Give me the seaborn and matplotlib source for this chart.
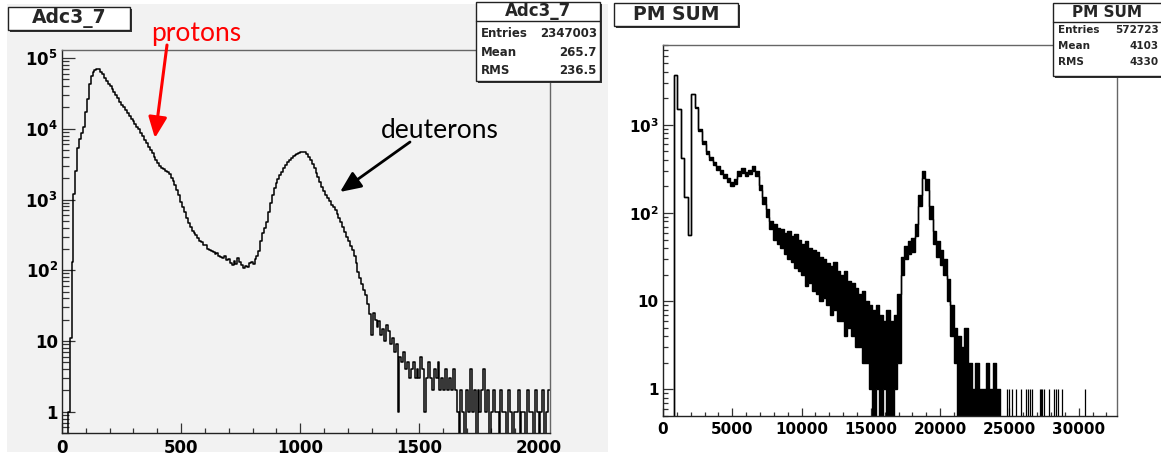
import numpy as np
import matplotlib
matplotlib.use("Agg")
import matplotlib.pyplot as plt
import seaborn as sns
from matplotlib.lines import Line2D
from matplotlib.patches import Rectangle
from matplotlib.ticker import LogLocator, MultipleLocator, NullFormatter

W, H = 1161, 461

# Adc3_7 : counts in 8-channel bins, 0 .. 2048
ADC_BIN = 8
adc_counts = [
    0, 0, 0, 1, 11, 130, 1200, 2500, 5400, 7100,
    8700, 10500, 17400, 26000, 43600, 55000, 63000, 67600, 69000, 69200,
    64500, 58900, 52500, 47900, 43600, 39800, 36300, 33100, 30200, 26900,
    24000, 21900, 20000, 18200, 16600, 15100, 13800, 12900, 11700, 10700,
    9800, 8700, 7800, 6900, 6200, 5500, 5000, 4500, 4000, 3630,
    3300, 3020, 2820, 2690, 2570, 2450, 2290, 2040, 1820, 1620,
    1380, 1150, 930, 790, 660, 550, 470, 410, 363, 339,
    316, 282, 263, 251, 229, 224, 200, 195, 186, 182,
    170, 178, 158, 155, 148, 158, 138, 145, 126, 120,
    135, 123, 148, 129, 117, 107, 115, 110, 126, 132,
    123, 145, 158, 190, 263, 331, 398, 479, 660, 890,
    1150, 1450, 1700, 1950, 2190, 2450, 2750, 3090, 3390, 3630,
    3890, 4070, 4270, 4420, 4570, 4680, 4730, 4680, 4370, 3980,
    3630, 3160, 2750, 2400, 2090, 1780, 1510, 1320, 1150, 1050,
    955, 850, 776, 708, 631, 550, 479, 407, 347, 295,
    257, 219, 191, 158, 126, 95, 78, 63, 52, 44,
    33, 24, 12, 25, 20, 16, 19, 12, 15, 10,
    17, 14, 9, 11, 7, 9, 1, 6, 5, 7,
    4, 5, 3, 4, 5, 3, 4, 3, 6, 4,
    1, 3, 5, 3, 2, 4, 3, 5, 2, 3,
    2, 4, 2, 3, 2, 4, 2, 1, 0, 2,
    1, 0, 2, 1, 4, 1, 2, 0, 2, 1,
    2, 4, 1, 2, 0, 1, 2, 1, 1, 0,
    2, 1, 1, 0, 2, 1, 0, 1, 1, 2,
    0, 1, 1, 0, 2, 1, 1, 0, 2, 1,
    0, 1, 2, 0, 1, 2,
]

# PM SUM : 256-unit bins, 0 .. 32768, upper / lower edge of the noisy band
PM_BIN = 256
pm_high = [
    0, 0, 0, 3700, 1500, 420, 150, 56, 2200, 1600,
    900, 650, 500, 430, 375, 340, 305, 275, 250, 225,
    245, 300, 320, 290, 310, 340, 300, 210, 150, 110,
    82, 75, 68, 65, 60, 62, 55, 58, 50, 45,
    48, 40, 38, 36, 32, 30, 27, 25, 28, 22,
    20, 22, 17, 16, 14, 12, 13, 10, 9, 8,
    9, 7, 6, 8, 6, 7, 12, 32, 42, 48,
    52, 75, 160, 300, 240, 120, 62, 48, 38, 30,
    18, 9, 5, 4, 3, 5, 2, 1, 2, 1,
    1, 2, 1, 2, 1, 0, 0, 0, 0, 0,
    0, 0, 0, 0, 0, 0, 0, 0, 0, 0,
    0, 0, 0, 0, 0, 0, 0, 0, 0, 0,
    0, 0, 0, 0, 0, 0, 0, 0,
]
pm_low = [
    0, 0, 0, 3700, 1500, 420, 150, 56, 2200, 1550,
    850, 600, 470, 400, 345, 310, 275, 250, 225, 200,
    215, 265, 285, 260, 275, 300, 265, 180, 125, 90,
    65, 50, 44, 40, 34, 30, 28, 24, 22, 20,
    15, 16, 13, 12, 10, 11, 9, 7, 8, 6,
    6, 4, 5, 4, 3, 3, 2, 2, 1, 0,
    1, 0, 1, 0, 0, 1, 2, 20, 30, 34,
    36, 55, 120, 250, 180, 85, 44, 32, 26, 20,
    10, 4, 2, 0, 0, 0, 0, 0, 0, 0,
    0, 0, 0, 0, 0, 0, 0, 0, 0, 0,
    0, 0, 0, 0, 0, 0, 0, 0, 0, 0,
    0, 0, 0, 0, 0, 0, 0, 0, 0, 0,
    0, 0, 0, 0, 0, 0, 0, 0,
]
# isolated single-count channels in the far tail
pm_single_hits = [24800, 25000, 25200, 25450, 25830, 26200, 26350, 26470, 26600,
                  27200, 27300, 27380, 27480, 27880, 28250, 28400, 28530, 28800, 30430]

adc_stats = [("Entries", "2347003"), ("Mean", "265.7"), ("RMS", "236.5")]
pm_stats = [("Entries", "572723"), ("Mean", "4103"), ("RMS", "4330")]

assert len(adc_counts) == 2048 // ADC_BIN
assert len(pm_high) == len(pm_low) == 32768 // PM_BIN

adc_edges = np.arange(0, 2048 + ADC_BIN, ADC_BIN)
pm_edges = np.arange(0, 32768 + PM_BIN, PM_BIN)

PANEL_GREY = "#f2f2f2"
ROOT_FONT = "DejaVu Sans"

sns.set_theme(style="ticks")
plt.rcParams["font.family"] = [ROOT_FONT]
plt.rcParams["mathtext.fontset"] = "custom"
plt.rcParams["mathtext.rm"] = "DejaVu Sans:bold"
plt.rcParams["mathtext.bf"] = "DejaVu Sans:bold"


def fx(x):
    return x / W


def fy(y):
    return 1 - y / H


def fp(x, y):
    return (x, H - y)


def box(fig, x0, y0, x1, y1, z=5):
    fig.add_artist(Rectangle((fx(x0 + 2), fy(y1 + 2)), fx(x1) - fx(x0), fy(y0) - fy(y1),
                             transform=fig.transFigure, facecolor="#333333",
                             edgecolor="none", zorder=z))
    fig.add_artist(Rectangle((fx(x0), fy(y1)), fx(x1) - fx(x0), fy(y0) - fy(y1),
                             transform=fig.transFigure, facecolor="white",
                             edgecolor="#222222", lw=1.0, zorder=z + 1))


def stats_box(fig, x0, y0, x1, y1, line_y, name, rows, row_y, val_x, title_fs, fs):
    box(fig, x0, y0, x1, y1)
    fig.add_artist(Line2D([fx(x0), fx(x1)], [fy(line_y)] * 2, transform=fig.transFigure,
                          color="#222222", lw=1.0, zorder=7))
    fig.text(fx((x0 + min(x1, W)) / 2), fy((y0 + line_y) / 2), name, ha="center",
             va="center", fontsize=title_fs, fontweight="bold", zorder=8)
    for (lab, val), y in zip(rows, row_y):
        fig.text(fx(x0 + 5), fy(y), lab, ha="left", va="center", fontsize=fs,
                 fontweight="bold", zorder=8)
        fig.text(fx(val_x), fy(y), val, ha="right", va="center", fontsize=fs,
                 fontweight="bold", zorder=8)


def root_axes(ax, xmax, ymax, xmajor, xminor, yticks, ylabels, fs, ylen, xlen):
    ax.set_yscale("log")
    ax.set_xlim(0, xmax)
    ax.set_ylim(0.5, ymax)
    xt = np.arange(0, xmax, xmajor)
    ax.set_xticks(xt, [str(int(v)) for v in xt], fontsize=fs, fontweight="bold")
    ax.xaxis.set_minor_locator(MultipleLocator(xminor))
    ax.set_yticks(yticks, ylabels, fontsize=fs, fontweight="bold")
    ax.yaxis.set_minor_locator(LogLocator(base=10, subs=np.arange(2, 10), numticks=20))
    ax.yaxis.set_minor_formatter(NullFormatter())
    ax.tick_params(which="both", direction="in", top=False, right=False,
                   color="#333333", width=0.9, labelcolor="black")
    ax.tick_params(axis="y", which="major", length=ylen, pad=3)
    ax.tick_params(axis="y", which="minor", length=ylen * 0.5)
    ax.tick_params(axis="x", which="major", length=xlen, pad=4)
    ax.tick_params(axis="x", which="minor", length=xlen * 0.5)
    ax.set_xlabel("")
    ax.set_ylabel("")
    for side, sp in ax.spines.items():
        sp.set_visible(True)
        sp.set_linewidth(1.0)
        sp.set_color("#222222" if side in ("left", "bottom") else "#666666")
    ax.grid(False)


fig = plt.figure(figsize=(W / 100, H / 100), dpi=100)
fig.patch.set_facecolor("white")
fig.add_artist(Rectangle((fx(7), fy(452)), fx(608) - fx(7), fy(4) - fy(452),
                         transform=fig.transFigure, facecolor=PANEL_GREY,
                         edgecolor="none", zorder=-10))

ax1 = fig.add_axes([fx(62), fy(433), fx(550) - fx(62), fy(50) - fy(433)])
ax2 = fig.add_axes([fx(663), fy(416), fx(1117) - fx(663), fy(45) - fy(416)])
ax1.set_facecolor(PANEL_GREY)
ax2.set_facecolor("white")

# left: ADC spectrum
sns.histplot(x=adc_edges[:-1] + ADC_BIN / 2, weights=adc_counts, bins=adc_edges.tolist(),
             element="step", fill=False, color="black", linewidth=1.1, ax=ax1)
root_axes(ax1, 2048, 1.3e5, 500, 100,
          [1, 10, 100, 1e3, 1e4, 1e5],
          ["1", "10", r"$10^{2}$", r"$10^{3}$", r"$10^{4}$", r"$10^{5}$"],
          12, 9.4, 7.2)

# right: PM sum, drawn as a band between the low and high envelopes
sns.histplot(x=pm_edges[:-1] + PM_BIN / 2, weights=pm_high, bins=pm_edges.tolist(),
             element="step", fill=False, color="black", linewidth=1.0, ax=ax2)
ax2.stairs(pm_high, pm_edges, baseline=pm_low, fill=True, color="black", lw=0)
ax2.stairs(pm_low, pm_edges, color="black", lw=1.0)
ax2.vlines(pm_single_hits, 0, 1, color="black", lw=0.9)
root_axes(ax2, 32768, 8000, 5000, 1000,
          [1, 10, 100, 1e3],
          ["1", "10", r"$10^{2}$", r"$10^{3}$"],
          11, 7.2, 5.8)

# title boxes
box(fig, 8, 7, 130, 30)
fig.text(fx(69), fy(18.5), "Adc3_7", ha="center", va="center", fontsize=13.5,
         fontweight="bold", zorder=8)
box(fig, 614, 3, 738, 26)
fig.text(fx(676), fy(14.5), "PM SUM", ha="center", va="center", fontsize=13.5,
         fontweight="bold", zorder=8)

# stats boxes
stats_box(fig, 476, 2, 600, 81, 21, "Adc3_7", adc_stats, [33, 52, 71], 597, 12, 8.5)
stats_box(fig, 1053, 3, 1175, 76, 22, "PM SUM", pm_stats, [30, 46, 62], 1159, 11, 7.5)

# annotations
fig.text(fx(196), fy(34), "protons", color="red", fontsize=19, family="Lato",
         ha="center", va="center")
ax1.annotate("", xy=(390, 7400), xycoords="data", xytext=fp(167, 45),
             textcoords="figure pixels", annotation_clip=False,
             arrowprops=dict(arrowstyle="-|>,head_length=0.9,head_width=0.4",
                             mutation_scale=14, color="red", lw=2.2,
                             shrinkA=0, shrinkB=0))
fig.text(fx(440), fy(130), "deuterons", color="black", fontsize=19, family="Lato",
         ha="center", va="center")
ax1.annotate("", xy=(1167, 1280), xycoords="data", xytext=fp(410, 142),
             textcoords="figure pixels", annotation_clip=False,
             arrowprops=dict(arrowstyle="-|>,head_length=0.9,head_width=0.4",
                             mutation_scale=14, color="black", lw=2.0,
                             shrinkA=0, shrinkB=0))

fig.savefig("out.png", dpi=100)
